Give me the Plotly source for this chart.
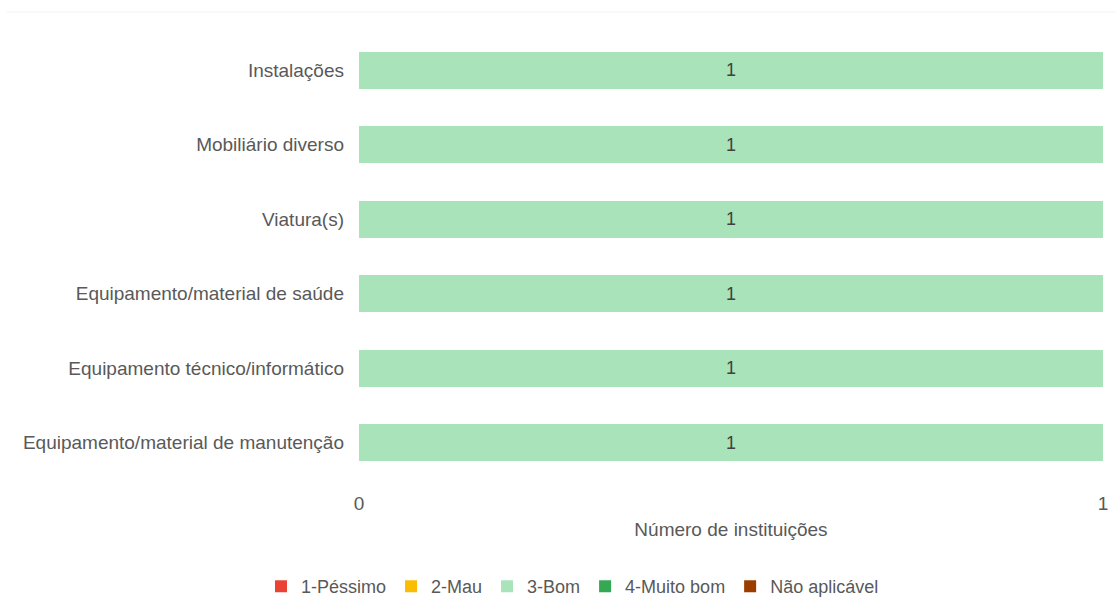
import plotly.graph_objects as go

# Items rated, listed top to bottom
categories = [
    "Instalações",
    "Mobiliário diverso",
    "Viatura(s)",
    "Equipamento/material de saúde",
    "Equipamento técnico/informático",
    "Equipamento/material de manutenção",
]

# Number of institutions per rating
pessimo = [0, 0, 0, 0, 0, 0]
mau = [0, 0, 0, 0, 0, 0]
bom = [1, 1, 1, 1, 1, 1]
muito_bom = [0, 0, 0, 0, 0, 0]
nao_aplicavel = [0, 0, 0, 0, 0, 0]

x_ticks = [0, 1]

series = [
    ("1-Péssimo", pessimo, "#EA4335"),
    ("2-Mau", mau, "#FBBC04"),
    ("3-Bom", bom, "#A8E3B9"),
    ("4-Muito bom", muito_bom, "#34A853"),
    ("Não aplicável", nao_aplicavel, "#9C3D00"),
]

FONT = "Liberation Sans, Arial, sans-serif"

fig = go.Figure()
for name, vals, color in series:
    show_text = any(v > 0 for v in vals)
    fig.add_trace(go.Bar(
        y=categories,
        x=vals,
        name=name,
        orientation="h",
        marker=dict(color=color, line=dict(width=0)),
        text=[str(v) if v > 0 else "" for v in vals] if show_text else None,
        textposition="inside" if show_text else "none",
        insidetextanchor="middle",
        textfont=dict(family=FONT, size=18, color="#404040"),
        hoverinfo="x+y+name",
    ))

fig.update_layout(
    barmode="stack",
    bargap=0.5,
    width=1116,
    height=611,
    margin=dict(l=359, r=13, t=33, b=131, autoexpand=False),
    paper_bgcolor="white",
    plot_bgcolor="white",
    font=dict(family=FONT, size=19, color="#595959"),
    xaxis=dict(
        range=[0, 1],
        tickvals=x_ticks,
        ticktext=[str(t) for t in x_ticks],
        showgrid=True,
        gridcolor="#D9D9D9",
        gridwidth=1,
        zeroline=False,
        showline=False,
        ticks="",
        automargin=False,
        ticklabelstandoff=10,
        tickfont=dict(size=19, color="#595959"),
        title=dict(text="Número de instituições", font=dict(size=19, color="#595959"), standoff=9),
    ),
    yaxis=dict(
        autorange="reversed",
        showgrid=False,
        zeroline=False,
        showline=False,
        ticks="",
        automargin=False,
        ticklabelstandoff=14,
        tickfont=dict(size=19, color="#595959"),
    ),
    legend=dict(
        orientation="h",
        xref="container",
        yref="container",
        x=0.513,
        xanchor="center",
        y=0.04,
        yanchor="middle",
        font=dict(size=18, color="#595959"),
        itemwidth=30,
        traceorder="normal",
    ),
    shapes=[dict(
        type="line", xref="paper", yref="paper",
        x0=-0.473, x1=1.02, y0=1.047, y1=1.047,
        line=dict(color="#F2F2F2", width=1),
    )],
)

fig.write_html("out.html")
